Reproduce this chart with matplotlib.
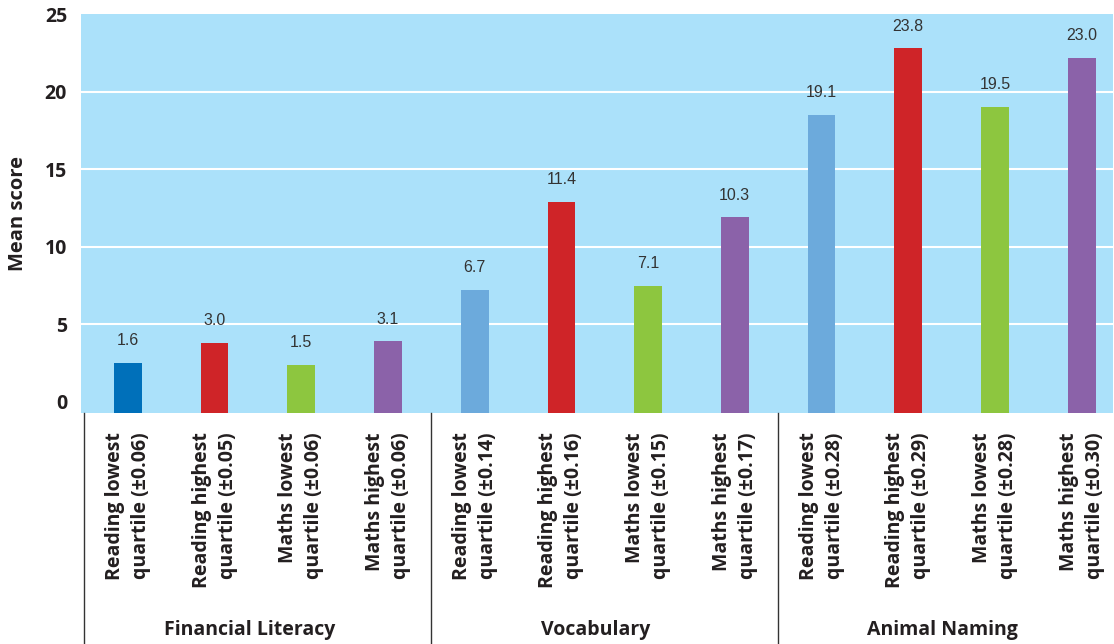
import matplotlib
matplotlib.use('Agg')
import matplotlib.pyplot as plt

# bar heights as drawn against the axis, and the printed value labels
categories = ['Reading lowest\nquartile (±0.06)', 'Reading highest\nquartile (±0.05)',
              'Maths lowest\nquartile (±0.06)', 'Maths highest\nquartile (±0.06)',
              'Reading lowest\nquartile (±0.14)', 'Reading highest\nquartile (±0.16)',
              'Maths lowest\nquartile (±0.15)', 'Maths highest\nquartile (±0.17)',
              'Reading lowest\nquartile (±0.28)', 'Reading highest\nquartile (±0.29)',
              'Maths lowest\nquartile (±0.28)', 'Maths highest\nquartile (±0.30)']
bar_heights = [2.5, 3.8, 2.4, 3.9, 7.2, 12.9, 7.5, 11.9, 18.5, 22.8, 19.0, 22.2]
value_labels = ['1.6', '3.0', '1.5', '3.1', '6.7', '11.4', '7.1', '10.3',
                '19.1', '23.8', '19.5', '23.0']
groups = ['Financial Literacy', 'Vocabulary', 'Animal Naming']
yticks = [0, 5, 10, 15, 20, 25]

colors = ['#0070BA', '#CF2428', '#8DC63F', '#8B62A9',
          '#6CAADC', '#CF2428', '#8DC63F', '#8B62A9',
          '#6CAADC', '#CF2428', '#8DC63F', '#8B62A9']

plt.rcParams['font.family'] = ['Open Sans', 'DejaVu Sans']

fig = plt.figure(figsize=(11.14, 6.44), dpi=100)
ax = fig.add_axes([0.0727, 0.359, 0.9263, 0.619])
ax.set_facecolor('#ABE1FA')

ymin = -0.71
x = list(range(len(bar_heights)))
ax.bar(x, [h - ymin for h in bar_heights], bottom=ymin, width=0.32, color=colors, zorder=3)

for xi, h, lab in zip(x, bar_heights, value_labels):
    ax.annotate(lab, (xi, h), xytext=(0, 16), textcoords='offset points',
                ha='center', va='center', fontsize=11.5, color='#333333',
                family=['Liberation Sans', 'DejaVu Sans'])

ax.set_xlim(-0.54, 11.36)
ax.set_ylim(ymin, 25)
ax.set_yticks(yticks)
ax.set_yticklabels([str(t) for t in yticks], fontsize=14, fontweight='bold', color='#231F20')
for g in [5, 10, 15, 20]:
    ax.axhline(g, color='white', lw=1.5, zorder=1)

ax.set_xticks(x)
ax.set_xticklabels(categories, rotation=90, fontsize=14, fontweight='bold',
                   color='#231F20', linespacing=1.4)
for lbl in ax.get_xticklabels():
    lbl.set_multialignment('right')
ax.tick_params(axis='both', length=0)
ax.tick_params(axis='x', pad=14)
ax.tick_params(axis='y', pad=10)

for s in ax.spines.values():
    s.set_visible(False)

ax.set_ylabel('Mean score', fontsize=14.5, fontweight='bold', color='#231F20', labelpad=12)

trans = ax.get_xaxis_transform()
for sep in [-0.5, 3.5, 7.5]:
    ax.plot([sep, sep], [0, -0.58], transform=trans, color='#333333', lw=1, clip_on=False)

for i, g in enumerate(groups):
    ax.text(1.4 + 4 * i, -0.544, g, transform=trans, ha='center', va='center',
            fontsize=14, fontweight='bold', color='#231F20')

fig.savefig('out.png', dpi=100)
